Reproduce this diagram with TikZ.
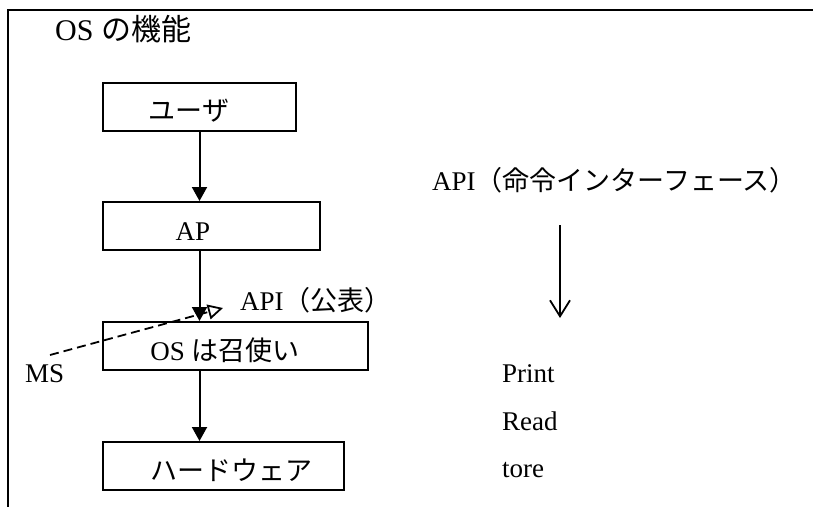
\documentclass[tikz,border=0pt]{standalone}
\usepackage{fontspec}
\setmainfont{Liberation Serif}
\newfontfamily\jp{Noto Sans CJK JP}
\usetikzlibrary{arrows.meta}
\begin{document}
\begin{tikzpicture}[x=1pt,y=-1pt,
  every node/.style={font=\fontsize{27}{32}\selectfont},
  box/.style={draw, line width=2pt, minimum height=48pt, inner ysep=0pt,
    inner xsep=0pt, text height=28pt, text depth=0pt},
  flow/.style={line width=2pt, -{Triangle[length=14pt,width=15pt]}},
  txt/.style={anchor=base west, inner sep=0pt}]
\useasboundingbox (0,0) rectangle (813,507);
% open frame: top and left edges only
\draw[line width=2pt] (813,10) -- (8,10) -- (8,507);

% title
\node[txt, font=\fontsize{30}{34}\selectfont] (title) at (55,40) {OS {\jp の機能}};

% layer boxes (text set slightly off centre)
\node[box, minimum width=193pt] (user) at (199.5,106.5) {{\jp ユーザ}\hspace{21pt}\null};
\node[box, minimum width=217pt] (ap) at (211.5,226) {AP\hspace{37pt}\null};
\node[box, minimum width=265pt] (os) at (235.5,346) {OS {\jp は召使い}\hspace{21pt}\null};
\node[box, minimum width=241pt] (hw) at (223.5,466) {\hspace{15pt}{\jp ハードウェア}};

% downward flow between layers
\draw[flow] (user.south) -- (user.south |- ap.north);
\draw[flow] (user.south |- ap.south) -- (user.south |- os.north);
\draw[flow] (user.south |- os.south) -- (user.south |- hw.north);

% API label and dashed pointer from MS
\node[txt] (apipub) at (240,310) {API{\jp （公表）}};
\node[txt] (ms) at (25,382) {MS};
\coordinate (msstart) at (50,355);
\coordinate (apitip) at (223,308);
\draw[line width=1.8pt, dash pattern=on 9pt off 5pt,
  -{Triangle[open,length=15pt,width=15pt]}] (msstart) -- (apitip);

% right column
\node[txt] (apiif) at (432,190) {API{\jp （命令インターフェース）}};
\coordinate (ra) at (560,225);
\coordinate (rb) at (560,318);
\draw[line width=1.8pt, -{Straight Barb[length=16pt,width=20pt]}] (ra) -- (rb);
\node[txt] (print) at (502,382) {Print};
\node[txt] (read) at (502,430) {Read};
\node[txt] (tore) at (502,477) {tore};
\end{tikzpicture}
\end{document}
